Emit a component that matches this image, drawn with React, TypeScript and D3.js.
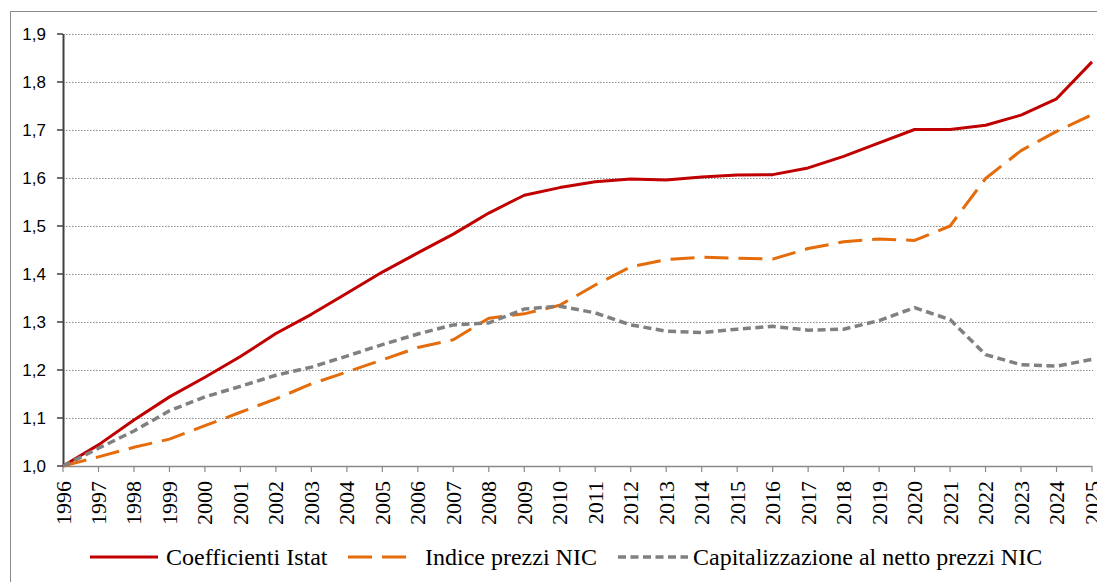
import React from 'react';
import * as d3 from 'd3';

const years = d3.range(1996, 2026);
const yTicks = [1.0, 1.1, 1.2, 1.3, 1.4, 1.5, 1.6, 1.7, 1.8, 1.9];

const coefficientiIstat = [
  1.000, 1.044, 1.096, 1.144, 1.185, 1.228, 1.276, 1.316, 1.360, 1.404,
  1.444, 1.483, 1.527, 1.564, 1.580, 1.592, 1.598, 1.596, 1.602, 1.606,
  1.607, 1.621, 1.645, 1.673, 1.701, 1.701, 1.710, 1.731, 1.765, 1.842,
];
const indicePrezziNic = [
  1.000, 1.019, 1.039, 1.056, 1.084, 1.112, 1.140, 1.171, 1.196, 1.221,
  1.247, 1.263, 1.308, 1.317, 1.335, 1.377, 1.415, 1.430, 1.435, 1.433,
  1.431, 1.453, 1.467, 1.473, 1.470, 1.500, 1.599, 1.657, 1.697, 1.732,
];
const capitalizzazione = [
  1.000, 1.037, 1.073, 1.115, 1.144, 1.166, 1.189, 1.206, 1.229, 1.253,
  1.275, 1.294, 1.298, 1.327, 1.333, 1.319, 1.294, 1.281, 1.278, 1.285,
  1.291, 1.283, 1.285, 1.303, 1.330, 1.305, 1.232, 1.211, 1.208, 1.222,
];

const seriesNames = ['Coefficienti Istat', 'Indice prezzi NIC', 'Capitalizzazione al netto prezzi NIC'];

const W = 1097;
const H = 582;
const margin = { top: 34, right: 5, bottom: 116, left: 63 };

const serif = "'Liberation Serif', 'Times New Roman', serif";
const sans = "'Liberation Sans', Arial, sans-serif";

const App: React.FC = () => {
  const x = d3.scaleLinear().domain([1996, 2025]).range([margin.left, 1092]);
  const y = d3.scaleLinear().domain([1.0, 1.9]).range([466, margin.top]);

  const line = d3.line<number>()
    .x((_, i) => x(years[i]))
    .y(d => y(d));

  const series = [
    { name: seriesNames[0], values: coefficientiIstat, color: '#C00000', dash: undefined, width: 3 },
    { name: seriesNames[1], values: indicePrezziNic, color: '#E46C0A', dash: '24,10', width: 3 },
    { name: seriesNames[2], values: capitalizzazione, color: '#808080', dash: '8,4.5', width: 3.5 },
  ];

  // legend layout: [swatch start, swatch end, text start]
  const legendPos = [
    [90, 158, 166],
    [348, 411, 425],
    [618, 688, 693],
  ];
  const legendY = 557;

  const fmt = (v: number) => v.toFixed(1).replace('.', ',');

  return (
    <svg width={W} height={H} style={{ position: 'absolute', left: 0, top: 0, background: '#fff' }}>
      <rect x={10.5} y={11.5} width={W} height={H} fill="#fff" stroke="#8a8a8a" strokeWidth={1} />

      {/* gridlines */}
      {yTicks.slice(1).map(t => (
        <line key={t} x1={x(1996)} x2={1093} y1={Math.round(y(t)) + 0.5} y2={Math.round(y(t)) + 0.5}
          stroke="#8c8c8c" strokeWidth={1} strokeDasharray="1.5,1.5" />
      ))}

      {/* x axis */}
      <line x1={x(1996)} x2={x(2025)} y1={466.5} y2={466.5} stroke="#8a8a8a" strokeWidth={1.5} />
      {years.map(yr => (
        <g key={yr}>
          <line x1={x(yr)} x2={x(yr)} y1={466} y2={472} stroke="#8a8a8a" strokeWidth={1.2} />
          <text transform={`translate(${x(yr) + 7.5},481) rotate(-90)`} textAnchor="end"
            fontFamily={serif} fontSize={22} fill="#000">
            {yr}
          </text>
        </g>
      ))}

      {/* y axis */}
      <line x1={63.5} x2={63.5} y1={y(1.9)} y2={467} stroke="#404040" strokeWidth={2} />
      {yTicks.map(t => (
        <g key={t}>
          <line x1={57} x2={63} y1={y(t)} y2={y(t)} stroke="#404040" strokeWidth={1.5} />
          <text x={46} y={y(t) + 6} textAnchor="end"
            fontFamily={sans} fontSize={17} fill="#000">
            {fmt(t)}
          </text>
        </g>
      ))}

      {/* series */}
      {series.map(s => (
        <path key={s.name} d={line(s.values) || ''} fill="none" stroke={s.color}
          strokeWidth={s.width} strokeDasharray={s.dash} strokeLinejoin="round" />
      ))}

      {/* legend */}
      {series.map((s, i) => (
        <g key={s.name}>
          <line x1={legendPos[i][0]} x2={legendPos[i][1]} y1={legendY} y2={legendY}
            stroke={s.color} strokeWidth={s.width} strokeDasharray={s.dash} />
          <text x={legendPos[i][2]} y={legendY + 8}
            fontFamily={serif} fontSize={24} fill="#000">
            {s.name}
          </text>
        </g>
      ))}
    </svg>
  );
};

export default App;
